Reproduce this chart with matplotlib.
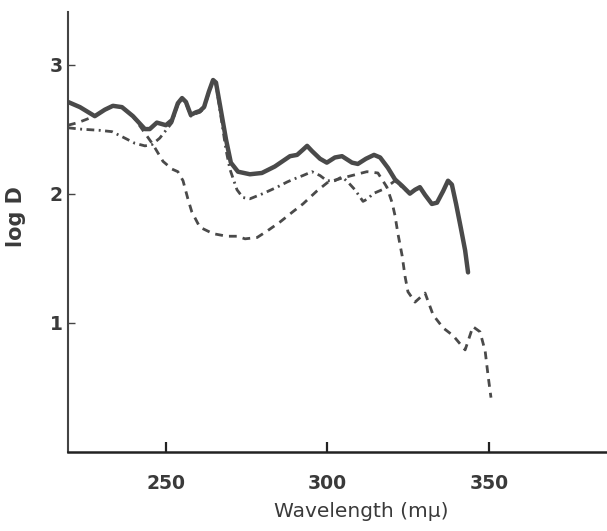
import matplotlib.pyplot as plt

# Curva continua
x_solid = [219.7, 223.4, 228.0, 231.1, 233.6, 236.4, 239.8, 243.5, 245.0, 247.2,
           250.0, 251.9, 253.7, 255.0, 256.2, 257.7, 259.3, 260.5, 261.8, 263.3,
           264.6, 265.5, 266.7, 268.6, 270.1, 272.3, 276.0, 279.7, 283.7, 288.4,
           290.6, 292.4, 293.7, 295.2, 297.7, 299.8, 302.3, 304.5, 307.6, 309.4,
           311.9, 314.4, 316.3, 318.7, 320.9, 323.1, 325.5, 327.1, 328.6, 330.2,
           332.3, 333.9, 335.8, 337.3, 338.5, 339.8, 341.3, 342.6, 343.5]
y_solid = [2.71, 2.67, 2.60, 2.65, 2.68, 2.67, 2.60, 2.50, 2.50, 2.55,
           2.53, 2.57, 2.70, 2.74, 2.71, 2.61, 2.63, 2.64, 2.67, 2.79,
           2.88, 2.86, 2.69, 2.42, 2.24, 2.17, 2.15, 2.16, 2.21, 2.29,
           2.30, 2.34, 2.37, 2.33, 2.27, 2.24, 2.28, 2.29, 2.24, 2.23,
           2.27, 2.30, 2.28, 2.20, 2.11, 2.06, 2.00, 2.03, 2.05, 1.99,
           1.92, 1.93, 2.02, 2.10, 2.07, 1.92, 1.73, 1.56, 1.39]

# Curva punto-raya
x_dashdot = [219.7, 223.4, 229.6, 233.3, 237.3, 240.4, 243.5, 245.7, 248.1, 250.0,
             251.9, 253.7, 255.0, 256.2, 257.7, 259.3, 260.5, 261.8, 263.3, 264.6,
             265.5, 266.7, 268.6, 269.8, 272.0, 273.8, 276.0, 280.0, 284.4, 287.5,
             289.3, 292.4, 295.2, 297.7, 299.8, 302.3, 304.5, 306.3, 308.5, 311.0,
             312.5, 314.1, 316.9, 319.3, 320.9, 323.1, 325.5, 327.1, 328.6, 330.2,
             332.3, 333.9, 335.8, 337.3, 338.5, 339.8, 341.3, 342.6, 343.5]
y_dashdot = [2.51, 2.50, 2.49, 2.48, 2.43, 2.39, 2.37, 2.38, 2.43, 2.49,
             2.55, 2.69, 2.73, 2.70, 2.60, 2.62, 2.63, 2.66, 2.78, 2.87,
             2.85, 2.65, 2.34, 2.19, 2.03, 1.97, 1.96, 2.00, 2.05, 2.09,
             2.11, 2.14, 2.17, 2.14, 2.10, 2.10, 2.13, 2.09, 2.03, 1.94,
             1.96, 2.00, 2.03, 2.07, 2.10, 2.05, 2.00, 2.03, 2.05, 1.99,
             1.92, 1.93, 2.02, 2.10, 2.07, 1.92, 1.73, 1.56, 1.39]

# Curva de trazos
x_dashed = [219.7, 222.8, 225.9, 228.0, 231.1, 233.6, 236.4, 239.8, 242.9, 246.0,
            249.1, 251.9, 253.7, 255.3, 256.8, 258.0, 260.5, 264.6, 268.9, 272.0,
            274.5, 278.2, 281.3, 285.3, 289.3, 292.4, 296.7, 300.2, 306.0, 312.2,
            315.6, 318.4, 320.0, 320.9, 321.8, 323.1, 324.0, 324.9, 327.1, 330.2,
            332.7, 335.8, 338.9, 342.6, 345.0, 347.2, 348.8, 349.7, 350.6]
y_dashed = [2.53, 2.55, 2.58, 2.60, 2.65, 2.68, 2.67, 2.60, 2.49, 2.38,
            2.25, 2.19, 2.17, 2.10, 1.96, 1.86, 1.74, 1.69, 1.67, 1.67,
            1.65, 1.66, 1.71, 1.78, 1.86, 1.92, 2.02, 2.09, 2.13, 2.17,
            2.16, 2.05, 1.93, 1.83, 1.69, 1.52, 1.36, 1.24, 1.16, 1.23,
            1.06, 0.96, 0.90, 0.79, 0.97, 0.93, 0.78, 0.59, 0.42]

x_ticks = [250, 300, 350]
y_ticks = [1, 2, 3]

color = '#4a4a4a'

fig = plt.figure(figsize=(6.07, 5.31), dpi=100)
ax = fig.add_axes([0.112, 0.149, 0.888, 0.828])

ax.plot(x_solid, y_solid, color=color, linewidth=3.2, solid_capstyle='round')
ax.plot(x_dashdot, y_dashdot, color=color, linewidth=2.0, dashes=(2.8, 1.6, 0.7, 1.6))
ax.plot(x_dashed, y_dashed, color=color, linewidth=2.0, dashes=(2.8, 2.2))

ax.set_xlim(219.7, 386.5)
ax.set_ylim(0, 3.405)

ax.spines['top'].set_visible(False)
ax.spines['right'].set_visible(False)
ax.spines['left'].set_linewidth(1.5)
ax.spines['bottom'].set_linewidth(1.8)
ax.spines['left'].set_color('#444444')
ax.spines['bottom'].set_color('#222222')

ax.set_xticks(x_ticks)
ax.set_yticks(y_ticks)
ax.tick_params(axis='x', direction='in', length=7, width=1.6, pad=16,
               labelsize=13.5, labelcolor='#3a3a3a', color='#222222')
ax.tick_params(axis='y', direction='in', length=5, width=1.0, pad=4,
               labelsize=13.5, labelcolor='#3a3a3a', color='#444444')
for lbl in ax.get_xticklabels() + ax.get_yticklabels():
    lbl.set_fontweight('bold')

ax.set_xlabel('Wavelength (mμ)', fontsize=14.5, color='#3a3a3a')
ax.set_ylabel('log D', fontsize=15, fontweight='bold', color='#3a3a3a')
ax.xaxis.set_label_coords(0.545, -0.114)
ax.yaxis.set_label_coords(-0.078, 0.536)

fig.savefig('out.png', dpi=100)
